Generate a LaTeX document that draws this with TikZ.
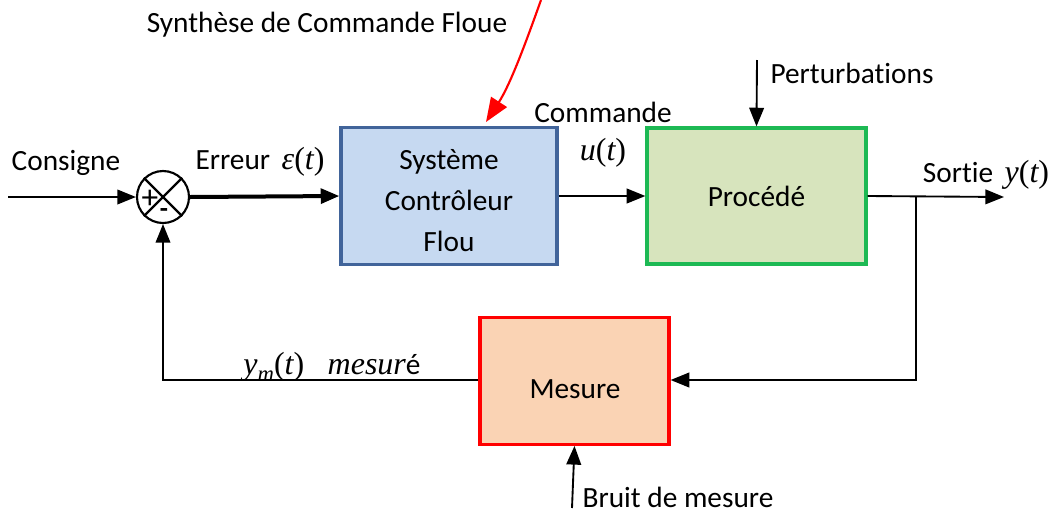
\documentclass[tikz,border=0pt]{standalone}
\usepackage{fontspec}
\setmainfont{Carlito}[Ligatures=NoCommon]
\newfontfamily\mathf{Liberation Serif}
\newcommand{\mv}[1]{{\mathf\itshape\fontsize{24}{30}\selectfont #1}}
\newcommand{\mvu}[1]{{\mathf\fontsize{24}{30}\selectfont #1}}
\usetikzlibrary{arrows.meta}
\definecolor{bluefill}{HTML}{C6D9F1}
\definecolor{blueborder}{HTML}{41649A}
\definecolor{greenfill}{HTML}{D7E4BD}
\definecolor{greenborder}{HTML}{1DB954}
\definecolor{peachfill}{HTML}{FAD3B4}
\definecolor{redborder}{HTML}{FF0000}
\tikzset{
  blockbox/.style={draw, line width=2.4pt, minimum width=#1, inner sep=0pt},
  lbl/.style={inner sep=0pt, align=center, font=\fontsize{22}{30.75}\selectfont},
  conn/.style={line width=1.4pt, -{Triangle[length=14pt,width=11pt]}},
}
\begin{document}
\begin{tikzpicture}[x=0.75pt,y=-0.75pt]
\useasboundingbox (0,0) rectangle (1061,515);
% blocks
\node[blockbox=162pt, fill=bluefill, draw=blueborder, minimum height=102.75pt] (ctrl) at (449,196) {};
\node[lbl] (ctrltext) at (449,201) {Système\\Contrôleur\\Flou};
\node[blockbox=164.25pt, fill=greenfill, draw=greenborder, minimum height=102pt] (proc) at (756.5,196) {};
\node[lbl] (proctext) at (756.5,196) {Procédé};
\node[blockbox=141.75pt, fill=peachfill, draw=redborder, minimum height=95pt] (mes) at (574.5,381) {};
\node[lbl] (mestext) at (575,389) {Mesure};
% summing junction
\node[circle, draw, line width=1.6pt, minimum size=39pt, inner sep=0pt] (sum) at (163,197) {};
\draw[line width=1.6pt] (sum.45) -- (sum.225) (sum.135) -- (sum.315);
\node[lbl, font=\fontsize{25}{26}\selectfont] (plus) at (150,199) {+};
\node[lbl, font=\fontsize{20}{20}\selectfont\bfseries] (minus) at (164,213) {-};
% coordinates
\coordinate (in) at (8,197);
\coordinate (pert) at (757,60);
\coordinate (outend) at (1004,197);
\coordinate (branch) at (916,197);
\coordinate (branchdown) at (916,380);
\coordinate (fbcorner) at (163,380);
\coordinate (bruit) at (572,508);
\coordinate (redstart) at (541,0);
\coordinate (redend) at (486,122);
% connectors
\draw[conn] (in) -- (sum.west);
\draw[conn, line width=3pt] (sum.east) -- (ctrl.west);
\draw[conn] (ctrl.east) -- (proc.west);
\draw[conn] (pert) -- (proc.north);
\draw[conn] (proc.east) -- (outend);
\draw[conn] (branch) -- (branchdown) -- (mes.east |- branchdown);
\draw[conn] (mes.west |- fbcorner) -- (fbcorner) -- (sum.south);
\draw[conn] (bruit) -- (mes.south);
\draw[line width=1.6pt, red, -{Triangle[length=18pt,width=14pt]}] (redstart) .. controls (525,45) and (510,85) .. (redend);
% labels
\node[lbl] (consigne) at (66,163) {Consigne};
\node[lbl] (erreur) at (260,162) {Erreur\, \mv{ε}\mvu{(}\mv{t}\mvu{)}};
\node[lbl] (commande) at (603,112) {Commande};
\node[lbl] (ut) at (603,153) {\mv{u}\mvu{(}\mv{t}\mvu{)}};
\node[lbl] (perturb) at (852,73) {Perturbations};
\node[lbl] (sortie) at (986,175) {Sortie\, \mv{y}\mvu{(}\mv{t}\mvu{)}};
\node[lbl] (ym) at (332,367) {\mv{y}\raisebox{-5pt}{\mathf\itshape\fontsize{17}{18}\selectfont m}\mvu{(}\mv{t}\mvu{)}\hspace{0.8em}\mv{mesur}é};
\node[lbl] (bruitl) at (678,497) {Bruit de mesure};
\node[lbl] (synth) at (327,25) {Synthèse de Commande Floue};
\end{tikzpicture}
\end{document}
